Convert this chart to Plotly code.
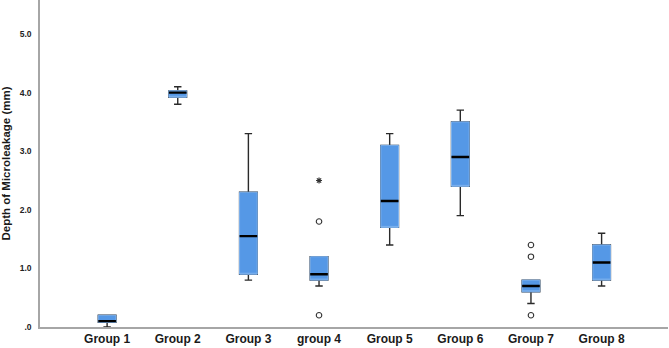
import plotly.graph_objects as go

groups = ["Group 1", "Group 2", "Group 3", "group 4", "Group 5", "Group 6", "Group 7", "Group 8"]
lower_fence = [0.0, 3.8, 0.8, 0.7, 1.4, 1.9, 0.4, 0.7]
q1 = [0.08, 3.92, 0.9, 0.8, 1.7, 2.4, 0.6, 0.8]
median = [0.1, 4.0, 1.55, 0.9, 2.15, 2.9, 0.7, 1.1]
q3 = [0.2, 4.03, 2.3, 1.2, 3.1, 3.5, 0.8, 1.4]
upper_fence = [0.2, 4.1, 3.3, 1.2, 3.3, 3.7, 0.8, 1.6]

outlier_x = ["group 4", "group 4", "Group 7", "Group 7", "Group 7"]
outlier_y = [1.8, 0.2, 1.4, 1.2, 0.2]
extreme_x = ["group 4"]
extreme_y = [2.5]

ytick_vals = [0, 1, 2, 3, 4, 5]
ytick_text = [".0", "1.0", "2.0", "3.0", "4.0", "5.0"]

BLUE = "#5598e6"
BORDER = "#7fb3ee"

fig = go.Figure()
# whiskers (black)
fig.add_trace(go.Box(x=groups, q1=q1, median=median, q3=q3,
                     lowerfence=lower_fence, upperfence=upper_fence,
                     fillcolor=BLUE, line=dict(color="#2a2a2a", width=1.4),
                     whiskerwidth=0.42, width=0.25, boxpoints=False,
                     hoverinfo="skip", showlegend=False))
# box body (blue)
fig.add_trace(go.Box(x=groups, q1=q1, median=q1, q3=q3,
                     lowerfence=q1, upperfence=q3,
                     fillcolor=BLUE, line=dict(color=BORDER, width=1),
                     whiskerwidth=0, width=0.25, boxpoints=False,
                     hoverinfo="skip", showlegend=False))
# median line (black)
fig.add_trace(go.Box(x=groups, q1=median, median=median, q3=median,
                     lowerfence=median, upperfence=median,
                     fillcolor="black", line=dict(color="black", width=2.4),
                     whiskerwidth=0, width=0.25, boxpoints=False,
                     hoverinfo="skip", showlegend=False))
# outliers
fig.add_trace(go.Scatter(x=outlier_x, y=outlier_y, mode="markers",
                         marker=dict(symbol="circle-open", size=5.5,
                                     color="#333333", line=dict(width=1.1)),
                         showlegend=False, hoverinfo="skip"))
fig.add_trace(go.Scatter(x=extreme_x, y=extreme_y, mode="markers",
                         marker=dict(symbol="asterisk-open", size=5,
                                     color="#333333", line=dict(width=1.2, color="#333333")),
                         showlegend=False, hoverinfo="skip"))

fig.update_layout(
    width=669, height=348,
    margin=dict(l=40, r=1, t=0, b=21),
    paper_bgcolor="white", plot_bgcolor="white",
    boxmode="overlay",
    font=dict(family="Liberation Sans, Arial, sans-serif", color="#222222"),
    xaxis=dict(categoryorder="array", categoryarray=groups,
               range=[-0.95, 7.94], showline=True, linecolor="#a6a6a6", linewidth=1.5,
               showgrid=False, zeroline=False, ticks="",
               tickfont=dict(size=12, family="Liberation Sans, Arial, sans-serif", color="#1a1a1a"),
               tickprefix="<b>", ticksuffix="</b>"),
    yaxis=dict(range=[0, 5.58], tickvals=ytick_vals, ticktext=["<b>" + t + "</b>" for t in ytick_text],
               showline=True, linecolor="#a6a6a6", linewidth=1.5,
               showgrid=False, zeroline=False, ticks="", ticklabelstandoff=5,
               tickfont=dict(size=8.5, family="Liberation Sans Narrow, Liberation Sans, Arial, sans-serif",
                             color="#222222"),
               title=dict(text="<b>Depth of Microleakage (mm)</b>", font=dict(size=11.5, color="#1a1a1a"),
                          standoff=9)),
)

fig.write_html("out.html", config={"displayModeBar": False},
               post_script="document.body.style.margin='0';document.body.style.overflow='hidden';")
